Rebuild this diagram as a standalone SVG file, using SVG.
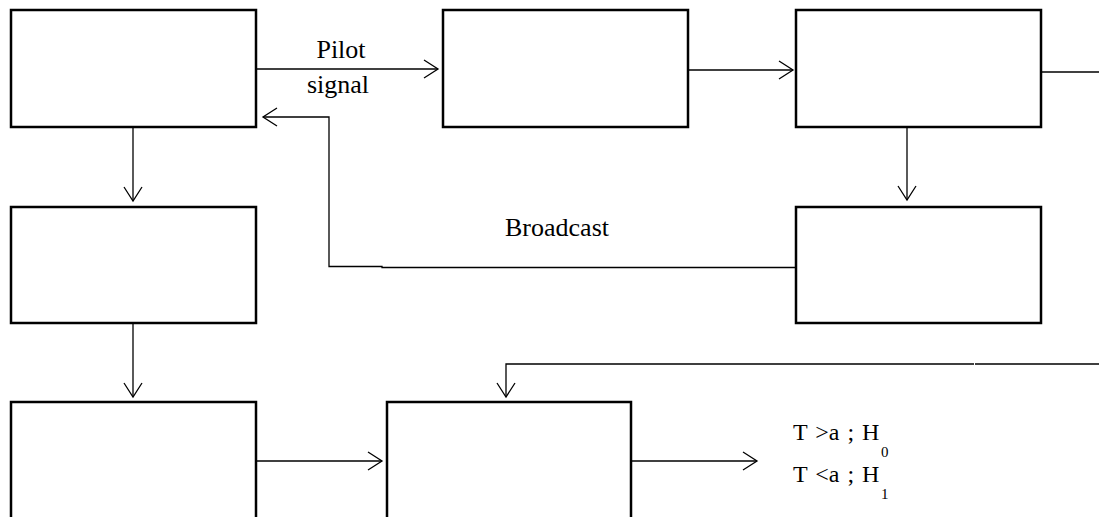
<svg xmlns="http://www.w3.org/2000/svg" width="1099" height="517" viewBox="0 0 1099 517">
<style>
.box{fill:#fff;stroke:#000;stroke-width:2.5}
.ln{fill:none;stroke:#000;stroke-width:1.3}
.ah{fill:none;stroke:#000;stroke-width:1.3}
text{font-family:"Liberation Serif","Times New Roman",serif;font-size:26px;fill:#000}
.eq{font-size:24px;word-spacing:2px}
.sub{font-size:15px}
</style>
<rect width="1099" height="517" fill="#fff"/>
<g id="connectors">
<path class="ln" d="M256 69H438"/><path class="ah" d="M424 60L438 69L424 78"/>
<path class="ln" d="M688 70H793"/><path class="ah" d="M779 61L793 70L779 79"/>
<path class="ln" d="M1041 72H1099"/>
<path class="ln" d="M907 127V200"/><path class="ah" d="M898 186L907 200L916 186"/>
<path class="ln" d="M133 127V201"/><path class="ah" d="M124 187L133 201L142 187"/>
<path class="ln" d="M133 323V397"/><path class="ah" d="M124 383L133 397L142 383"/>
<path class="ln" d="M796 267.5H382V266.5H329V117H263"/><path class="ah" d="M277 108L263 117L277 126"/>
<path class="ln" d="M1099 364H975M974 364H506V397"/><path class="ah" d="M497 383L506 397L515 383"/>
<path class="ln" d="M256 461H382"/><path class="ah" d="M368 452L382 461L368 470"/>
<path class="ln" d="M631 461H757"/><path class="ah" d="M743 452L757 461L743 470"/>
</g>
<g id="n1"><rect class="box" x="11" y="10" width="245" height="117"/></g>
<g id="n2"><rect class="box" x="443" y="10" width="245" height="117"/></g>
<g id="n3"><rect class="box" x="796" y="10" width="245" height="117"/></g>
<g id="n4"><rect class="box" x="11" y="207" width="245" height="116"/></g>
<g id="n5"><rect class="box" x="796" y="207" width="245" height="116"/></g>
<g id="n6"><rect class="box" x="11" y="402" width="245" height="125"/></g>
<g id="n7"><rect class="box" x="387" y="402" width="244" height="125"/></g>
<g id="labels">
<text x="341" y="58" text-anchor="middle">Pilot</text>
<text x="338" y="93" text-anchor="middle">signal</text>
<text x="557" y="236" text-anchor="middle">Broadcast</text>
<text class="eq" x="793" y="440">T &gt;a ; H</text>
<text class="sub" x="881" y="457">0</text>
<text class="eq" x="793" y="482">T &lt;a ; H</text>
<text class="sub" x="881" y="499">1</text>
</g>
</svg>
